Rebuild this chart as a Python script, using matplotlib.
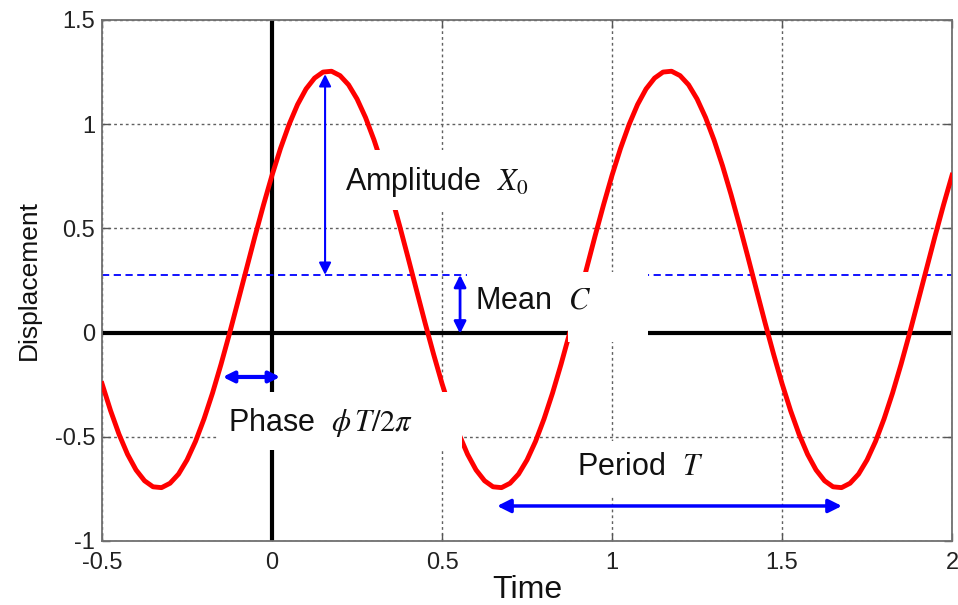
import matplotlib.pyplot as plt
from matplotlib.patches import Rectangle

# Data
time = [
    -0.5, -0.475, -0.45, -0.425, -0.4, -0.375, -0.35, -0.325, -0.3, -0.275,
    -0.25, -0.225, -0.2, -0.175, -0.15, -0.125, -0.1, -0.075, -0.05, -0.025,
    0.0, 0.025, 0.05, 0.075, 0.1, 0.125, 0.15, 0.175, 0.2, 0.225,
    0.25, 0.275, 0.3, 0.325, 0.35, 0.375, 0.4, 0.425, 0.45, 0.475,
    0.5, 0.525, 0.55, 0.575, 0.6, 0.625, 0.65, 0.675, 0.7, 0.725,
    0.75, 0.775, 0.8, 0.825, 0.85, 0.875, 0.9, 0.925, 0.95, 0.975,
    1.0, 1.025, 1.05, 1.075, 1.1, 1.125, 1.15, 1.175, 1.2, 1.225,
    1.25, 1.275, 1.3, 1.325, 1.35, 1.375, 1.4, 1.425, 1.45, 1.475,
    1.5, 1.525, 1.55, 1.575, 1.6, 1.625, 1.65, 1.675, 1.7, 1.725,
    1.75, 1.775, 1.8, 1.825, 1.85, 1.875, 1.9, 1.925, 1.95, 1.975,
    2.0,
]
displacement = [
    -0.245, -0.374, -0.488, -0.584, -0.659, -0.711, -0.740, -0.744, -0.723, -0.679,
    -0.611, -0.522, -0.414, -0.290, -0.152, -0.004, 0.151, 0.307, 0.463, 0.613,
    0.755, 0.884, 0.998, 1.094, 1.169, 1.221, 1.250, 1.254, 1.233, 1.189,
    1.121, 1.032, 0.924, 0.800, 0.662, 0.514, 0.360, 0.203, 0.047, -0.103,
    -0.245, -0.374, -0.488, -0.584, -0.659, -0.711, -0.740, -0.744, -0.723, -0.679,
    -0.611, -0.522, -0.414, -0.290, -0.152, -0.004, 0.151, 0.307, 0.463, 0.613,
    0.755, 0.884, 0.998, 1.094, 1.169, 1.221, 1.250, 1.254, 1.233, 1.189,
    1.121, 1.032, 0.924, 0.800, 0.662, 0.514, 0.360, 0.203, 0.047, -0.103,
    -0.245, -0.374, -0.488, -0.584, -0.659, -0.711, -0.740, -0.744, -0.723, -0.679,
    -0.611, -0.522, -0.414, -0.290, -0.152, -0.004, 0.151, 0.307, 0.463, 0.613,
    0.755,
]
mean_level = 0.277
x_ticks = [-0.5, 0, 0.5, 1, 1.5, 2]
y_ticks = [-1, -0.5, 0, 0.5, 1, 1.5]
x_tick_labels = ['-0.5', '0', '0.5', '1', '1.5', '2']
y_tick_labels = ['-1', '-0.5', '0', '0.5', '1', '1.5']

plt.rcParams['font.family'] = ['Liberation Sans', 'DejaVu Sans']
plt.rcParams['mathtext.fontset'] = 'stix'

fig = plt.figure(figsize=(9.58, 6.05), dpi=100)
ax = fig.add_axes([0.1065, 0.1058, 0.8873, 0.8612])

ax.set_xlim(-0.5, 2)
ax.set_ylim(-1, 1.5)
ax.set_xticks(x_ticks)
ax.set_xticklabels(x_tick_labels)
ax.set_yticks(y_ticks)
ax.set_yticklabels(y_tick_labels)
ax.tick_params(direction='in', length=6, width=1, color='#555555',
               top=True, right=True, labelsize=17, labelcolor='#222222', pad=5)
ax.tick_params(axis='x', pad=8)
for s in ax.spines.values():
    s.set_color('#707070')
    s.set_linewidth(1.3)
ax.grid(True, color='#606060', linestyle=(0, (2, 2.2)), linewidth=1.0)
ax.set_axisbelow(True)

# axes cross and mean level
ax.axvline(0, color='black', lw=3, zorder=2)
ax.axhline(0, color='black', lw=3, zorder=2)
ax.axhline(mean_level, color='blue', lw=1.3, ls=(0, (4, 2.5)), zorder=2)

# the signal
ax.plot(time, displacement, color='red', lw=3.5, zorder=3)

# white label backgrounds hiding parts of the lines
for (x0, y0, x1, y1) in [(0.185, 0.588, 0.88, 0.876),
                         (0.574, 0.013, 1.106, 0.291),
                         (0.87, -0.045, 1.106, 0.04),
                         (-0.159, -0.564, 0.559, -0.285),
                         (0.847, -0.79, 1.465, -0.522)]:
    ax.add_patch(Rectangle((x0, y0), x1 - x0, y1 - y0, facecolor='white',
                           edgecolor='none', zorder=4))

# arrows
arrow_kw = dict(color='blue', shrinkA=0, shrinkB=0)
ax.annotate('', xy=(0.156, 1.24), xytext=(0.156, mean_level),
            arrowprops=dict(arrowstyle='<|-|>', lw=1.5, mutation_scale=18, **arrow_kw), zorder=5)
ax.annotate('', xy=(0.553, mean_level), xytext=(0.553, -0.005),
            arrowprops=dict(arrowstyle='<|-|>', lw=2, mutation_scale=18, **arrow_kw), zorder=5)
ax.annotate('', xy=(-0.145, -0.213), xytext=(0.024, -0.213),
            arrowprops=dict(arrowstyle='<|-|>', lw=3, mutation_scale=16, **arrow_kw), zorder=5)
ax.annotate('', xy=(0.662, -0.832), xytext=(1.676, -0.832),
            arrowprops=dict(arrowstyle='<|-|>', lw=2.5, mutation_scale=20, **arrow_kw), zorder=5)

# labels
txt = dict(fontsize=22, color='#111111', ha='left', va='center', zorder=6)
ax.text(0.215, 0.722, r'Amplitude  $X_0$', **txt)
ax.text(0.597, 0.156, r'Mean  $C$', **txt)
ax.text(-0.129, -0.43, r'Phase  $\phi\, T/2\pi$', **txt)
ax.text(0.897, -0.645, r'Period  $T$', **txt)

ax.set_xlabel('Time', fontsize=23, color='#111111', labelpad=1)
ax.set_ylabel('Displacement', fontsize=19, color='#111111', labelpad=10)

fig.savefig('out.png', dpi=100)
